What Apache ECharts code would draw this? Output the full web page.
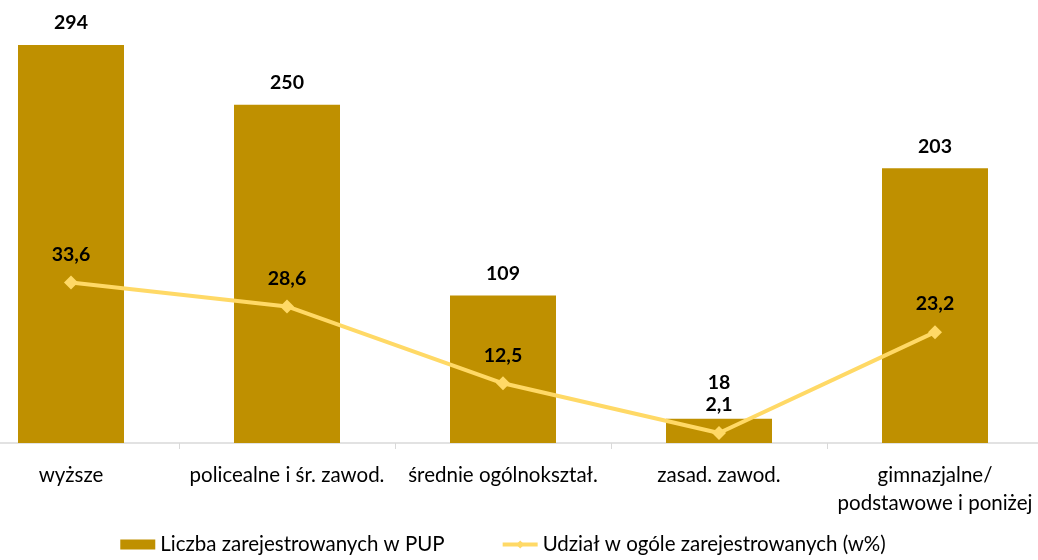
<!DOCTYPE html>
<html>
<head>
<meta charset="utf-8">
<script src="https://cdn.jsdelivr.net/npm/echarts@6/dist/echarts.min.js"></script>
<style>
  html, body { margin: 0; padding: 0; background: #fff; overflow: hidden; }
  #wrap { width: 1038px; height: 560px; overflow: hidden; position: relative; }
  /* the plot in the original runs a bit past the left edge */
  #chart { width: 1080px; height: 560px; position: absolute; left: -37px; top: 0; }
</style>
</head>
<body>
<div id="wrap"><div id="chart"></div></div>
<script>
  const categories = ['wyższe', 'policealne i śr. zawod.', 'średnie ogólnokształ.', 'zasad. zawod.', 'gimnazjalne/\npodstawowe i poniżej'];
  const liczba = [294, 250, 109, 18, 203];
  const udzial = [33.6, 28.6, 12.5, 2.1, 23.2];

  const chart = echarts.init(document.getElementById('chart'));
  const font = 'Lato, "Open Sans", sans-serif';

  // small bar: label pushed up so it sits above the line label
  const barData = liczba.map(function (v, i) {
    if (i === 3) return { value: v, label: { distance: 26 } };
    return v;
  });

  const option = {
    animation: false,
    textStyle: { fontFamily: font },
    legend: {
      bottom: 0,
      left: 'center',
      itemGap: 56,
      itemWidth: 35,
      itemHeight: 10,
      textStyle: { fontSize: 20.5, color: '#000', fontFamily: font },
      data: [
        { name: 'Liczba zarejestrowanych w PUP', icon: 'rect' },
        { name: 'Udział w ogóle zarejestrowanych (w%)', lineStyle: { width: 4 } }
      ]
    },
    grid: {
      left: 0,
      right: 0,
      top: 37,
      bottom: 117,
      containLabel: false
    },
    xAxis: {
      type: 'category',
      data: categories,
      axisLine: { show: true, lineStyle: { color: '#D9D9D9', width: 1.5 } },
      axisTick: { show: true, length: 6, lineStyle: { color: '#D9D9D9' } },
      axisLabel: { color: '#000', fontSize: 20.5, margin: 18, lineHeight: 28, fontFamily: font, interval: 0 }
    },
    yAxis: [
      { type: 'value', min: 0, max: 300, show: false, splitLine: { show: false } },
      { type: 'value', min: 0, max: 85, show: false, splitLine: { show: false } }
    ],
    series: [
      {
        name: 'Liczba zarejestrowanych w PUP',
        type: 'bar',
        data: barData,
        barWidth: 106,
        itemStyle: { color: '#BF9000' },
        label: {
          show: true,
          position: 'top',
          distance: 12,
          color: '#000',
          fontWeight: 'bold',
          fontSize: 19.5,
          fontFamily: font
        }
      },
      {
        name: 'Udział w ogóle zarejestrowanych (w%)',
        type: 'line',
        yAxisIndex: 1,
        data: udzial,
        symbol: 'diamond',
        symbolSize: 14,
        lineStyle: { color: '#FFD966', width: 4 },
        itemStyle: { color: '#FFD966' },
        label: {
          show: true,
          position: 'top',
          distance: 11,
          color: '#000',
          fontWeight: 'bold',
          fontSize: 19.5,
          fontFamily: font,
          formatter: function (p) { return String(p.value).replace('.', ','); }
        }
      }
    ]
  };

  chart.setOption(option);
</script>
</body>
</html>
